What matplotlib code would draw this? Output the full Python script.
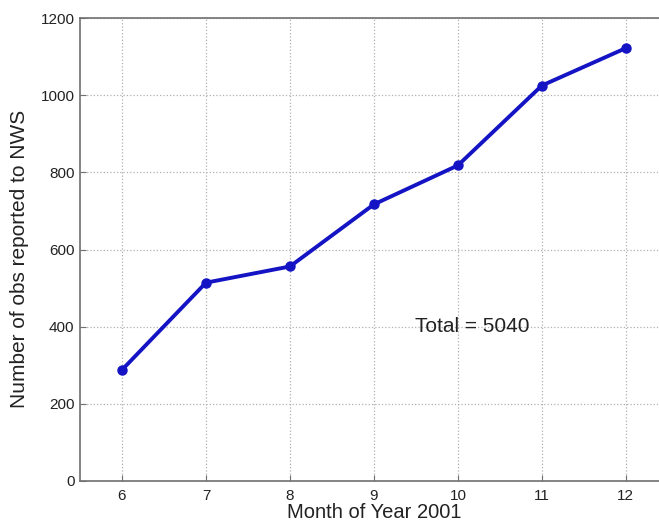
import matplotlib
matplotlib.use("Agg")
import matplotlib.pyplot as plt

months = [6, 7, 8, 9, 10, 11, 12]
obs_counts = [288, 514, 556, 717, 818, 1025, 1122]
total = sum(obs_counts)
x_ticks = [6, 7, 8, 9, 10, 11, 12]
y_ticks = [0, 200, 400, 600, 800, 1000, 1200]

plt.rcParams['font.family'] = ['Liberation Sans', 'DejaVu Sans']

fig = plt.figure(figsize=(6.59, 5.27), dpi=100)
ax = fig.add_axes([0.1214, 0.0873, 0.892, 0.8785])

ax.plot(months, obs_counts, color='#1414c4', linewidth=2.8,
        marker='o', markersize=6.5, zorder=3)

ax.set_xlim(5.5, 12.5)
ax.set_ylim(0, 1200)
ax.set_xticks(x_ticks)
ax.set_yticks(y_ticks)
ax.grid(True, linestyle=':', color='#b0b0b0', linewidth=0.9)
ax.tick_params(axis='both', direction='in', length=4, labelsize=11,
               colors='#707070', labelcolor='#222222')
ax.tick_params(axis='x', pad=6)
ax.tick_params(axis='y', pad=4)
for s in ax.spines.values():
    s.set_color('#707070')
    s.set_linewidth(1.2)

ax.text(9.49, 400, f'Total = {total}', fontsize=15, va='center', ha='left',
        color='#222222')
ax.set_xlabel('Month of Year 2001', fontsize=14.5, labelpad=0, color='#222222')
ax.set_ylabel('Number of obs reported to NWS', fontsize=15, color='#222222')
ax.yaxis.set_label_coords(-0.087, 0.479)

fig.savefig('out.png', dpi=100)
